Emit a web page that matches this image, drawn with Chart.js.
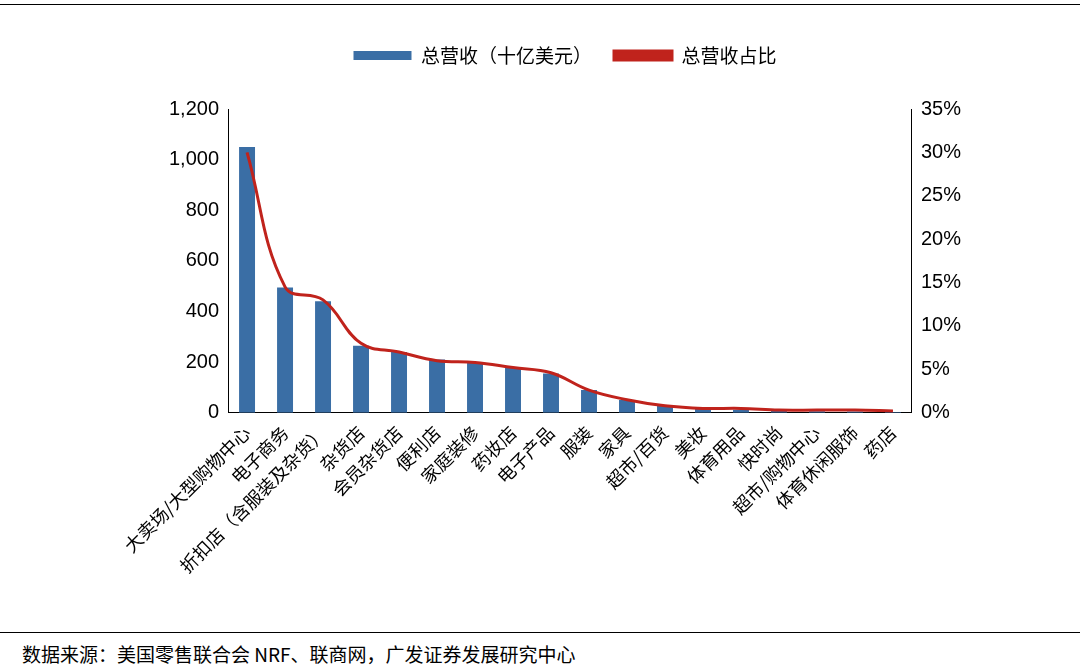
<!DOCTYPE html>
<html><head><meta charset="utf-8">
<script src="https://cdn.jsdelivr.net/npm/chart.js@4"></script>
<style>
body{margin:0;background:#fff;width:1080px;height:671px;overflow:hidden;position:relative;font-family:"Noto Sans CJK SC",sans-serif}
#top{position:absolute;left:0;top:4px;width:1080px;border-top:1.5px solid #000}
#bot{position:absolute;left:0;top:632px;width:1080px;border-top:1.5px solid #000}
#src{position:absolute;left:22px;top:640px;font-size:19px;color:#000}
#wrap{position:absolute;left:0;top:20px;width:1080px;height:610px}
</style></head><body>
<div id="top"></div><div id="wrap"><canvas id="c"></canvas></div><div id="bot"></div>
<div id="src">数据来源：美国零售联合会 NRF、联商网，广发证券发展研究中心</div>
<script>
const categories=["大卖场/大型购物中心","电子商务","折扣店（含服装及杂货）","杂货店","会员杂货店","便利店","家庭装修","药妆店","电子产品","服装","家具","超市/百货","美妆","体育用品","快时尚","超市/购物中心","体育休闲服饰","药店"];
const revenue=[1050,495,440,265,240,210,200,180,155,90,50,30,15,12,8,6,5,3];
const share=[30,14.5,13,8,7,6,5.8,5.2,4.6,2.6,1.5,0.8,0.5,0.5,0.3,0.3,0.3,0.2];
const leftTicks=[0,200,400,600,800,1000,1200];
const legendGap={id:'lg',beforeInit(c){const f=c.legend.fit;c.legend.fit=function(){f.call(this);this.height+=34;};}};
new Chart(document.getElementById('c'),{
plugins:[legendGap],
data:{labels:categories,datasets:[
{type:'line',label:'总营收占比',data:share,yAxisID:'y1',borderColor:'#C0231C',backgroundColor:'#C0231C',borderWidth:3,pointRadius:0,tension:0.4,order:0},
{type:'bar',label:'总营收（十亿美元）',data:revenue,yAxisID:'y',backgroundColor:'#3A6EA5',barPercentage:0.42,categoryPercentage:1,order:1}
]},
options:{responsive:true,maintainAspectRatio:false,animation:false,
layout:{padding:{left:166,right:116,top:4,bottom:50}},
plugins:{legend:{reverse:true,labels:{font:{size:19,family:'"Noto Sans CJK SC"'},color:'#000',boxWidth:58,boxHeight:9,padding:22}},tooltip:{enabled:false}},
scales:{
x:{grid:{display:false,drawTicks:true,tickLength:6,offset:true},border:{color:'#000'},ticks:{color:'#000',font:{size:18,family:'"Noto Sans CJK SC"'},maxRotation:45,minRotation:45,autoSkip:false}},
y:{position:'left',min:0,max:1200,afterBuildTicks:a=>{a.ticks=leftTicks.map(v=>({value:v}))},grid:{display:false,tickLength:6},border:{color:'#000'},ticks:{color:'#000',font:{size:20,family:'"Liberation Sans"'},callback:v=>v.toLocaleString('en-US')}},
y1:{position:'right',min:0,max:35,grid:{display:false,tickLength:6},border:{color:'#000'},ticks:{stepSize:5,color:'#000',font:{size:20,family:'"Liberation Sans"'},callback:v=>v+'%'}}
}}});
</script></body></html>
